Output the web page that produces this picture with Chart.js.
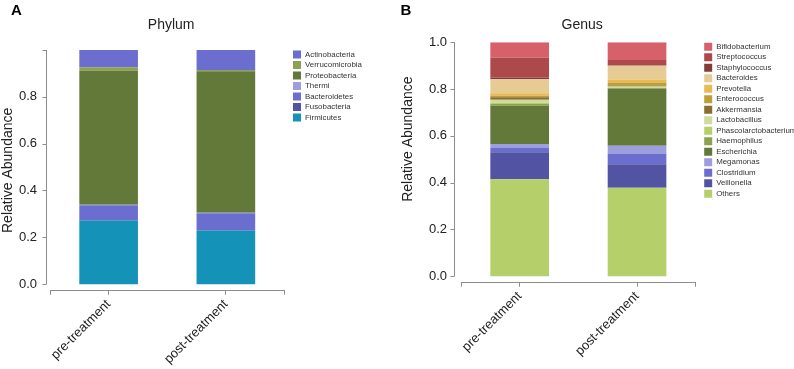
<!DOCTYPE html>
<html>
<head>
<meta charset="utf-8">
<title>Phylum / Genus relative abundance</title>
<script src="https://cdn.jsdelivr.net/npm/chart.js@4.4.0/dist/chart.umd.min.js"></script>
<style>
    body { margin: 0; background: #fff; width: 794px; height: 369px; overflow: hidden; position: relative; }
    .panel { position: absolute; top: 0; height: 369px; }
    .panel canvas { display: block; }
    .letter { position: absolute; font: bold 15px "Liberation Sans", Arial, sans-serif; line-height: 15px; color: #000; }
</style>
</head>
<body>
<div class="panel" style="left:0;width:380px"><canvas id="phylumChart" width="380" height="369"></canvas></div>
<div class="panel" style="left:400px;width:420px"><canvas id="genusChart" width="420" height="369"></canvas></div>
<div class="letter" style="left:11px;top:1.5px">A</div>
<div class="letter" style="left:400.5px;top:2.2px">B</div>

<script>
var groups = ["pre-treatment", "post-treatment"];
var yTicks = [0, 0.2, 0.4, 0.6, 0.8, 1.0];

// Phylum, from the bottom of the stack to the top
var phylumNames = ["Firmicutes", "Fusobacteria", "Bacteroidetes", "Thermi", "Proteobacteria", "Verrucomicrobia", "Actinobacteria"];
var phylumColors = ["#1592b8", "#5254a3", "#6b6ecf", "#9c9ede", "#637939", "#8ca252", "#6b6ecf"];
var phylumPre = [0.272, 0.002, 0.063, 0.002, 0.572, 0.015, 0.074];
var phylumPost = [0.229, 0.002, 0.072, 0.002, 0.604, 0.006, 0.085];

// Genus, from the bottom of the stack to the top
var genusNames = ["Others", "Veillonella", "Clostridium", "Megamonas", "Escherichia", "Haemophilus", "Phascolarctobacterium", "Lactobacillus", "Akkermansia", "Enterococcus", "Prevotella", "Bacteroides", "Staphylococcus", "Streptococcus", "Bifidobacterium"];
var genusColors = ["#b5cf6b", "#5254a3", "#6b6ecf", "#9c9ede", "#637939", "#8ca252", "#b5cf6b", "#cedb9c", "#8c6d31", "#bd9e39", "#e7ba52", "#e7cb94", "#843c39", "#ad494a", "#d6616b"];
var genusPre = [0.414, 0.116, 0.018, 0.017, 0.164, 0.007, 0.006, 0.012, 0.011, 0.006, 0.011, 0.060, 0.008, 0.084, 0.066];
var genusPost = [0.378, 0.101, 0.046, 0.033, 0.243, 0.004, 0.002, 0.004, 0.004, 0.011, 0.015, 0.059, 0.002, 0.022, 0.076];

var FONT = "'Liberation Sans', Arial, sans-serif";
var LEGEND_SIZE = 7.9;
var LEGEND_PAD = 2.5;
var LEGEND_BOX = 8;
var GAP = 6;       // space between plot and legend
var SHIFT = 320;   // negative left padding, so the legend is not squeezed by the layout

Chart.defaults.font.family = FONT;

function buildDatasets(names, colors, pre, post) {
    return names.map(function (name, i) {
        return {
            label: name,
            data: [pre[i], post[i]],
            backgroundColor: colors[i],
            borderWidth: 0,
            barPercentage: 0.5,
            categoryPercentage: 1.0
        };
    });
}

// same sum chart.js uses for a vertical legend
function legendWidth(names) {
    var c = document.createElement("canvas").getContext("2d");
    c.font = LEGEND_SIZE + "px " + FONT;
    var w = 0;
    names.forEach(function (n) { w = Math.max(w, c.measureText(n).width); });
    return LEGEND_PAD + LEGEND_BOX + LEGEND_SIZE / 2 + w + 10;
}

// offset y axis line + outer ticks of the x axis (d3 style axes)
var axisLines = {
    id: "axisLines",
    afterDraw: function (chart, args, opts) {
        var ctx = chart.ctx;
        var area = chart.chartArea;
        var y = chart.scales.y;
        var xl = Math.round(area.left - opts.gap) + 0.5;
        ctx.save();
        ctx.strokeStyle = "#8c8c8c";
        ctx.lineWidth = 1;
        ctx.beginPath();
        ctx.moveTo(xl, y.getPixelForValue(0));
        ctx.lineTo(xl, y.getPixelForValue(1));
        y.ticks.forEach(function (t) {
            var py = Math.round(y.getPixelForValue(t.value)) + 0.5;
            ctx.moveTo(xl - 4, py);
            ctx.lineTo(xl, py);
        });
        var l = Math.round(area.left) + 0.5, r = Math.round(area.right) - 0.5;
        ctx.moveTo(l, area.bottom);
        ctx.lineTo(l, area.bottom + 4);
        ctx.moveTo(r, area.bottom);
        ctx.lineTo(r, area.bottom + 4);
        ctx.stroke();
        ctx.restore();
    }
};

function makeChart(id, titleText, names, datasets, s) {
    var canvas = document.getElementById(id);
    var ctx = canvas.getContext("2d");
    var padRight = canvas.width - s.plotRight - GAP - legendWidth(names);

    return new Chart(ctx, {
        type: "bar",
        data: { labels: groups, datasets: datasets },
        plugins: [axisLines],
        options: {
            responsive: false,
            animation: false,
            layout: { padding: { left: -SHIFT, right: padRight, top: 0, bottom: 0 } },
            scales: {
                x: {
                    stacked: true,
                    grid: { display: true, drawOnChartArea: false, drawTicks: true, tickLength: 4, offset: false, color: "#8c8c8c" },
                    border: { display: true, color: "#8c8c8c" },
                    ticks: { color: "#222", font: { size: 13 }, minRotation: 45, maxRotation: 45, padding: 2 },
                    afterFit: function (sc) { sc.height = s.xHeight; }
                },
                y: {
                    stacked: true,
                    min: -0.028,
                    max: 1,
                    grid: { display: false, drawTicks: false },
                    border: { display: false },
                    afterBuildTicks: function (sc) {
                        sc.ticks = yTicks.map(function (v) { return { value: v }; });
                    },
                    ticks: {
                        color: "#222",
                        font: { size: 13 },
                        padding: s.labelPad,
                        callback: function (v) {
                            if (v === 1 && !s.showTop) return "";
                            return Number(v).toFixed(1);
                        }
                    },
                    title: { display: true, text: s.yTitle, color: "#222", font: { size: 14 }, padding: { top: SHIFT, bottom: 0 } },
                    afterFit: function (sc) { sc.width = s.yWidth + SHIFT; }
                },
                gap: {
                    type: "linear",
                    position: "right",
                    display: true,
                    grid: { display: false, drawTicks: false },
                    border: { display: false },
                    ticks: { display: false },
                    afterFit: function (sc) { sc.width = GAP; }
                }
            },
            plugins: {
                title: {
                    display: true,
                    fullSize: false,
                    text: titleText,
                    color: "#222",
                    font: { size: 14, weight: "normal" },
                    padding: { top: 16.6, bottom: s.titleBottom }
                },
                legend: {
                    position: "right",
                    align: "start",
                    fullSize: false,
                    reverse: true,
                    title: { display: true, text: "", font: { size: 1 }, padding: { top: -1.6, bottom: -1.6 } },
                    labels: { boxWidth: LEGEND_BOX, boxHeight: LEGEND_BOX, padding: LEGEND_PAD, color: "#333", font: { size: LEGEND_SIZE } }
                },
                tooltip: { enabled: false },
                axisLines: { gap: s.axisGap }
            }
        }
    });
}

function createPhylum() {
    makeChart("phylumChart", "  Phylum", phylumNames, buildDatasets(phylumNames, phylumColors, phylumPre, phylumPost), {
        yWidth: 50, plotRight: 284.5, xHeight: 78.3, labelPad: 13, titleBottom: 16.6,
        axisGap: 4.5, showTop: false, yTitle: "Relative Abundance"
    });
}

function createGenus() {
    makeChart("genusChart", "  Genus", genusNames, buildDatasets(genusNames, genusColors, genusPre, genusPost), {
        yWidth: 61, plotRight: 295.7, xHeight: 86.3, labelPad: 14, titleBottom: 8.9,
        axisGap: 7.5, showTop: true, yTitle: "            Relative Abundance"
    });
}

window.onload = function () {
    createPhylum();
    createGenus();
};
</script>
</body>
</html>
